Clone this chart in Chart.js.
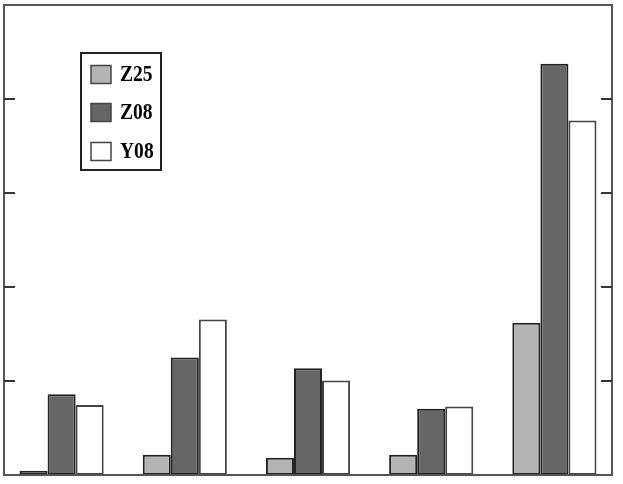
<!DOCTYPE html>
<html>
<head>
<meta charset="utf-8">
<script src="https://cdn.jsdelivr.net/npm/chart.js@4"></script>
<style>
  html, body { margin: 0; padding: 0; background: #fff; }
  #wrap { width: 623px; height: 484px; }
</style>
</head>
<body>
<div id="wrap"><canvas id="chart" width="623" height="484"></canvas></div>
<script>
const categories = ['1', '2', '3', '4', '5'];
const z25 = [0.045, 0.215, 0.183, 0.215, 1.62];
const z08 = [0.86, 1.25, 1.135, 0.705, 4.375];
const y08 = [0.745, 1.655, 1.005, 0.73, 3.77];
const yTicks = [1, 2, 3, 4];

// frame + inward ticks on both sides
const framePlugin = {
  id: 'frame',
  afterDraw(chart) {
    const { ctx, chartArea: a, scales } = chart;
    const left = a.left + 4, right = a.right - 4;
    ctx.save();
    ctx.strokeStyle = '#555';
    ctx.lineWidth = 2;
    ctx.strokeRect(left, a.top, right - left, a.bottom - a.top);
    ctx.strokeStyle = '#333';
    ctx.lineWidth = 2;
    yTicks.forEach(v => {
      const y = Math.round(scales.y.getPixelForValue(v));
      ctx.beginPath();
      ctx.moveTo(left, y); ctx.lineTo(left + 11, y);
      ctx.moveTo(right, y); ctx.lineTo(right - 11, y);
      ctx.stroke();
    });
    ctx.restore();
  }
};

// legend box inside the plot, top left
const legendPlugin = {
  id: 'innerLegend',
  afterDraw(chart) {
    const { ctx } = chart;
    ctx.save();
    ctx.fillStyle = '#fff';
    ctx.fillRect(81, 53, 80, 117);
    ctx.strokeStyle = '#222';
    ctx.lineWidth = 2;
    ctx.strokeRect(81, 53, 80, 117);
    ctx.textBaseline = 'middle';
    const rows = [74.5, 112.5, 151.5];
    chart.data.datasets.forEach((ds, i) => {
      const cy = rows[i];
      ctx.fillStyle = ds.backgroundColor;
      ctx.fillRect(91, cy - 9, 20, 18);
      ctx.strokeStyle = '#444';
      ctx.lineWidth = 1.5;
      ctx.strokeRect(91, cy - 9, 20, 18);
      ctx.save();
      ctx.translate(120, cy + 1);
      ctx.scale(0.85, 1);
      ctx.fillStyle = '#000';
      ctx.font = 'bold 23px "Liberation Serif", serif';
      ctx.fillText(ds.label, 0, 0);
      ctx.restore();
    });
    ctx.restore();
  }
};

const barStyle = { borderColor: '#222', borderWidth: 2, borderSkipped: false };

new Chart(document.getElementById('chart'), {
  type: 'bar',
  data: {
    labels: categories,
    datasets: [
      { label: 'Z25', data: z25, backgroundColor: '#b3b3b3', ...barStyle },
      { label: 'Z08', data: z08, backgroundColor: '#666666', ...barStyle },
      { label: 'Y08', data: y08, backgroundColor: '#ffffff', ...barStyle, borderColor: '#444' }
    ]
  },
  options: {
    responsive: false,
    animation: false,
    layout: { padding: { left: 0, right: 7, top: 5, bottom: 9 } },
    datasets: { bar: { categoryPercentage: 0.683, barPercentage: 1 } },
    scales: {
      x: { display: false },
      y: { display: false, min: 0, max: 5 }
    },
    plugins: { legend: { display: false }, tooltip: { enabled: false } }
  },
  plugins: [framePlugin, legendPlugin]
});
</script>
</body>
</html>
